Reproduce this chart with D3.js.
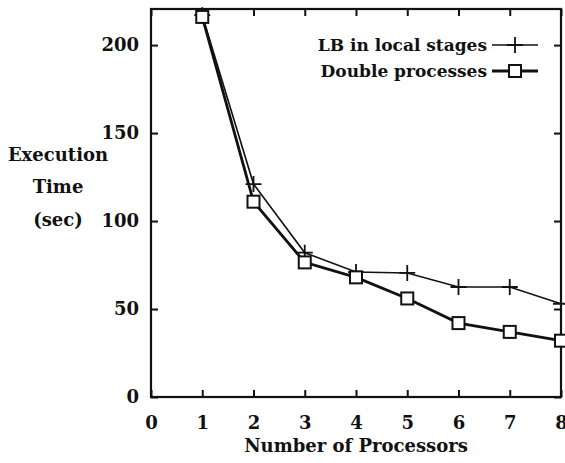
<!DOCTYPE html>
<html>
<head>
<meta charset="utf-8">
<script src="https://cdn.jsdelivr.net/npm/d3@7"></script>
<style>
  body { margin: 0; background: #fff; }
</style>
</head>
<body>
<svg id="chart" width="565" height="463"></svg>
<script>
const processors = [1, 2, 3, 4, 5, 6, 7, 8];
const lbLocal = [217, 121, 82, 71, 70.5, 62.5, 62.5, 53];
const doubleProc = [216, 111, 76.5, 68, 56, 42, 37, 32];
const xTicks = [0, 1, 2, 3, 4, 5, 6, 7, 8];
const yTicks = [0, 50, 100, 150, 200];

const FONT = "'DejaVu Serif', 'Liberation Serif', serif";
const svg = d3.select("#chart");
const plotL = 151, plotR = 561, plotT = 9, plotB = 397;

const x = d3.scaleLinear().domain([0, 8]).range([plotL, plotR]);
const y = d3.scaleLinear().domain([0, 220.5]).range([plotB, plotT]);

function label(sel, size) {
  return sel.style("font-family", FONT).style("font-weight", "bold")
      .attr("font-size", size).attr("fill", "#111");
}

// frame
svg.append("rect")
    .attr("x", plotL).attr("y", plotT)
    .attr("width", plotR - plotL).attr("height", plotB - plotT)
    .attr("fill", "none").attr("stroke", "#111").attr("stroke-width", 2.2);

// ticks (inward on all four sides)
const tickLen = 7;
svg.append("g").attr("transform", "translate(0," + plotB + ")")
    .call(d3.axisBottom(x).tickValues(xTicks).tickSize(-tickLen).tickPadding(tickLen + 12).tickFormat(d3.format("d")))
    .call(g => g.select(".domain").remove())
    .call(g => g.selectAll("line").attr("stroke", "#111").attr("stroke-width", 2))
    .call(g => label(g.selectAll("text"), 18));
svg.append("g").attr("transform", "translate(0," + plotT + ")")
    .call(d3.axisTop(x).tickValues(xTicks).tickSize(-tickLen).tickFormat(""))
    .call(g => g.select(".domain").remove())
    .call(g => g.selectAll("line").attr("stroke", "#111").attr("stroke-width", 2));
svg.append("g").attr("transform", "translate(" + plotL + ",0)")
    .call(d3.axisLeft(y).tickValues(yTicks).tickSize(-tickLen).tickPadding(tickLen + 5).tickFormat(d3.format("d")))
    .call(g => g.select(".domain").remove())
    .call(g => g.selectAll("line").attr("stroke", "#111").attr("stroke-width", 2))
    .call(g => label(g.selectAll("text"), 18));
svg.append("g").attr("transform", "translate(" + plotR + ",0)")
    .call(d3.axisRight(y).tickValues(yTicks).tickSize(-tickLen).tickFormat(""))
    .call(g => g.select(".domain").remove())
    .call(g => g.selectAll("line").attr("stroke", "#111").attr("stroke-width", 2));

// axis titles
label(svg.append("text").attr("x", 356).attr("y", 452).attr("text-anchor", "middle"), 18)
    .text("Number of Processors");
[["Execution", 161], ["Time", 193], ["(sec)", 226]].forEach(([t, yy]) => {
  label(svg.append("text").attr("x", 58).attr("y", yy).attr("text-anchor", "middle"), 18).text(t);
});

const line = d3.line().x((d, i) => x(processors[i])).y(d => y(d));

// LB in local stages
svg.append("path").datum(lbLocal).attr("d", line)
    .attr("fill", "none").attr("stroke", "#111").attr("stroke-width", 1.6);
svg.selectAll(".plus").data(lbLocal).enter().append("path")
    .attr("class", "plus")
    .attr("d", (d, i) => {
      const cx = x(processors[i]), cy = y(d), s = 8;
      return "M" + (cx - s) + "," + cy + "H" + (cx + s) + "M" + cx + "," + (cy - s) + "V" + (cy + s);
    })
    .attr("stroke", "#111").attr("stroke-width", 1.8);

// Double processes
svg.append("path").datum(doubleProc).attr("d", line)
    .attr("fill", "none").attr("stroke", "#111").attr("stroke-width", 2.8);
svg.selectAll(".sq").data(doubleProc).enter().append("rect")
    .attr("class", "sq")
    .attr("x", (d, i) => x(processors[i]) - 6).attr("y", d => y(d) - 6)
    .attr("width", 12).attr("height", 12)
    .attr("fill", "#fff").attr("stroke", "#111").attr("stroke-width", 2);

// legend
const lg = svg.append("g");
label(lg.append("text").attr("x", 487).attr("y", 51).attr("text-anchor", "end"), 17)
    .text("LB in local stages");
lg.append("line").attr("x1", 492).attr("x2", 538).attr("y1", 45).attr("y2", 45)
    .attr("stroke", "#111").attr("stroke-width", 1.6);
lg.append("path").attr("d", "M507,45H523M515,37V53").attr("stroke", "#111").attr("stroke-width", 1.8);
label(lg.append("text").attr("x", 487).attr("y", 77).attr("text-anchor", "end"), 17)
    .text("Double processes");
lg.append("line").attr("x1", 492).attr("x2", 538).attr("y1", 71).attr("y2", 71)
    .attr("stroke", "#111").attr("stroke-width", 2.8);
lg.append("rect").attr("x", 509).attr("y", 65).attr("width", 12).attr("height", 12)
    .attr("fill", "#fff").attr("stroke", "#111").attr("stroke-width", 2);
</script>
</body>
</html>
